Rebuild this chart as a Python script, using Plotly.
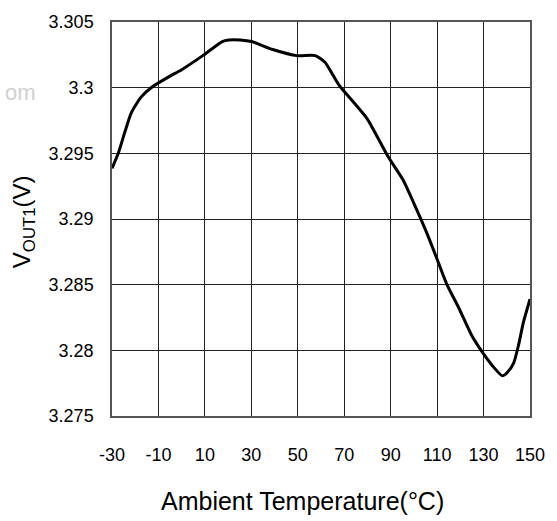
import plotly.graph_objects as go

temps = [-30, -27.3, -24.5, -21.7, -17.5, -12.6, -5.6, 0, 9.1, 17.5, 20.3, 25.2, 30.1,
         39.2, 49.7, 57.5, 61.7, 65.2, 68, 74.3, 79.9, 89, 95.3, 100.2, 105.1, 109.3,
         114.2, 119.2, 124.8, 129.7, 133.9, 138.1, 140.2, 143, 145.1, 147.2, 150]
vout = [3.29386, 3.2950, 3.2966, 3.29808, 3.29928, 3.30007, 3.30082, 3.30137, 3.30244,
        3.30351, 3.30363, 3.30363, 3.30351, 3.30291, 3.30244, 3.30244, 3.30194, 3.30094,
        3.30013, 3.29883, 3.29763, 3.29472, 3.29299, 3.29112, 3.28913, 3.28726, 3.28502,
        3.28328, 3.28117, 3.27980, 3.27881, 3.27806, 3.27831, 3.27905, 3.28043, 3.28216,
        3.28390]
x_ticks = [-30, -10, 10, 30, 50, 70, 90, 110, 130, 150]
y_ticks = [3.275, 3.28, 3.285, 3.29, 3.295, 3.3, 3.305]
y_tick_text = ["3.275", "3.28", "3.285", "3.29", "3.295", "3.3", "3.305"]

FONT = "Liberation Sans, Arial, sans-serif"

fig = go.Figure()
fig.add_trace(go.Scatter(x=temps, y=vout, mode="lines",
                         line=dict(color="black", width=3, shape="spline", smoothing=0.6),
                         showlegend=False, hoverinfo="skip"))

fig.update_layout(
    width=557, height=521,
    margin=dict(l=112, r=17, t=14, b=105),
    paper_bgcolor="white", plot_bgcolor="white",
    font=dict(family=FONT, color="black"),
    xaxis=dict(range=[-30, 150], tickvals=x_ticks, ticktext=[str(v) for v in x_ticks],
               showgrid=True, gridcolor="#222", gridwidth=1, zeroline=False,
               showline=True, linecolor="#555", linewidth=1.5, mirror=True,
               ticks="", tickfont=dict(size=18, family=FONT), ticklabelstandoff=22),
    yaxis=dict(range=[3.275, 3.305], tickvals=y_ticks, ticktext=y_tick_text,
               showgrid=True, gridcolor="#222", gridwidth=1, zeroline=False,
               showline=True, linecolor="#555", linewidth=1.5, mirror=True,
               ticks="", tickfont=dict(size=18, family=FONT), ticklabelstandoff=13),
    annotations=[
        dict(text="Ambient Temperature(°C)", xref="paper", yref="paper",
             x=0.4556, y=-0.2164, xanchor="center", yanchor="middle", showarrow=False,
             font=dict(size=25, family=FONT, color="black")),
        dict(text="V<sub>OUT1</sub>(V)", xref="paper", yref="paper",
             x=-0.21, y=0.4925, xanchor="center", yanchor="middle", showarrow=False,
             textangle=-90, font=dict(size=24, family=FONT, color="black")),
        dict(text="om", xref="paper", yref="paper",
             x=-0.2617, y=0.822, xanchor="left", yanchor="middle", showarrow=False,
             font=dict(size=22, family=FONT, color="#d0d0d0")),
    ],
)

fig.write_html("out.html")
